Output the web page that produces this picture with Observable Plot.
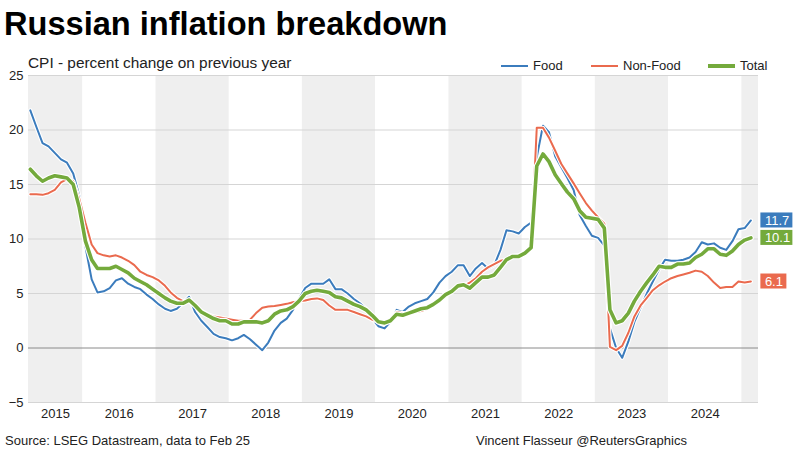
<!DOCTYPE html>
<html>
<head>
<meta charset="utf-8">
<script src="https://cdn.jsdelivr.net/npm/d3@7"></script>
<script src="https://cdn.jsdelivr.net/npm/@observablehq/plot@0.6"></script>
<style>
html,body{margin:0;padding:0;background:#fff;}
body{width:800px;height:450px;position:relative;overflow:hidden;font-family:"Liberation Sans",Arial,sans-serif;color:#111;}
.abs{position:absolute;white-space:nowrap;z-index:2;}
#title{left:4px;top:8px;font-size:32.6px;line-height:32px;font-weight:bold;color:#000;}
#subtitle{left:28px;top:55px;font-size:15.4px;line-height:15.4px;color:#222;}
.leg{font-size:13px;line-height:13px;top:59px;color:#222;}
.sw{position:absolute;z-index:2;width:27px;}
#chart{position:absolute;left:0;top:70px;z-index:1;}
.foot{top:434px;font-size:13px;line-height:13px;color:#222;}
</style>
</head>
<body>
<div id="title" class="abs">Russian inflation breakdown</div>
<div id="subtitle" class="abs">CPI - percent change on previous year</div>
<div id="legend"></div>
<div id="chart"></div>
<div class="abs foot" style="left:5px">Source: LSEG Datastream, data to Feb 25</div>
<div class="abs foot" style="left:476px">Vincent Flasseur @ReutersGraphics</div>
<script>
// Monthly data, Apr 2015 – Feb 2025 (year-on-year % change)
const firstMonth = {year: 2015, month: 4};
const food = [
  21.8, 20.3, 18.8, 18.5, 17.9, 17.3, 17.0, 16.0, 14.0,            // 2015 Apr-Dec
  9.3, 6.3, 5.1, 5.2, 5.5, 6.2, 6.4, 5.9, 5.6, 5.4, 4.9, 4.5,       // 2016
  4.0, 3.6, 3.4, 3.6, 4.1, 4.7, 3.3, 2.5, 1.9, 1.3, 1.0, 0.9,       // 2017
  0.7, 0.9, 1.2, 0.8, 0.3, -0.2, 0.5, 1.6, 2.3, 2.7, 3.5, 4.5,      // 2018
  5.5, 5.9, 5.9, 5.9, 6.3, 5.4, 5.4, 5.0, 4.5, 4.1, 3.6, 2.7,       // 2019
  2.0, 1.8, 2.4, 3.5, 3.3, 3.8, 4.1, 4.3, 4.5, 5.1, 6.0, 6.6,       // 2020
  7.0, 7.6, 7.6, 6.6, 7.3, 7.8, 7.3, 7.6, 9.0, 10.8, 10.7, 10.5,    // 2021
  11.1, 11.5, 17.5, 20.4, 19.8, 17.6, 16.6, 15.6, 14.5, 12.2, 11.2, 10.3, // 2022
  10.1, 9.4, 1.8, 0.0, -0.9, 0.6, 2.4, 3.7, 5.0, 6.1, 7.2, 8.1,     // 2023
  8.0, 8.0, 8.1, 8.3, 8.8, 9.7, 9.5, 9.6, 9.2, 9.0, 9.8, 10.9,      // 2024
  11.0, 11.7                                                        // 2025 Jan-Feb
];
const nonFood = [
  14.1, 14.1, 14.05, 14.2, 14.5, 15.2, 15.5, 15.3, 13.7,
  11.5, 9.5, 8.7, 8.5, 8.4, 8.5, 8.3, 8.0, 7.6, 7.0, 6.7, 6.5,
  6.2, 5.7, 5.1, 4.6, 4.3, 4.3, 3.9, 3.4, 3.1, 2.9, 2.8, 2.7,
  2.6, 2.5, 2.5, 2.6, 3.2, 3.7, 3.8, 3.85, 3.95, 4.05, 4.2, 4.3,
  4.35, 4.5, 4.55, 4.4, 3.9, 3.5, 3.5, 3.5, 3.3, 3.1, 2.9, 2.6,
  2.4, 2.3, 2.6, 3.3, 3.2, 3.2, 3.3, 3.4, 3.6, 4.0, 4.5, 5.0,
  5.2, 5.6, 5.7, 6.0, 6.4, 7.0, 7.4, 7.7, 8.0, 8.1, 8.4, 8.5,
  8.8, 9.2, 20.2, 20.2, 19.3, 18.1, 16.9, 16.0, 15.1, 14.2, 13.3, 12.6,
  12.0, 11.4, 0.1, -0.2, 0.2, 1.4, 2.9, 3.9, 4.6, 5.3, 5.75, 6.1,
  6.4, 6.6, 6.75, 6.9, 7.1, 7.0, 6.6, 6.0, 5.5, 5.6, 5.6, 6.1,
  6.0, 6.1
];
const total = [
  16.4, 15.8, 15.3, 15.6, 15.8, 15.7, 15.6, 15.0, 12.9,
  9.8, 8.1, 7.3, 7.3, 7.3, 7.5, 7.2, 6.9, 6.4, 6.1, 5.8, 5.4,
  5.0, 4.6, 4.3, 4.1, 4.1, 4.4, 3.9, 3.3, 3.0, 2.7, 2.5, 2.5,
  2.2, 2.2, 2.4, 2.4, 2.4, 2.3, 2.5, 3.1, 3.4, 3.5, 3.8, 4.3,
  5.0, 5.2, 5.3, 5.2, 5.1, 4.7, 4.6, 4.3, 4.0, 3.8, 3.5, 3.0,
  2.4, 2.3, 2.5, 3.1, 3.0, 3.2, 3.4, 3.6, 3.7, 4.0, 4.4, 4.9,
  5.2, 5.7, 5.8, 5.5, 6.0, 6.5, 6.5, 6.7, 7.4, 8.1, 8.4, 8.4,
  8.7, 9.2, 16.7, 17.8, 17.1, 15.9, 15.1, 14.3, 13.7, 12.6, 12.0, 11.9,
  11.8, 11.0, 3.5, 2.3, 2.5, 3.2, 4.3, 5.2, 6.0, 6.7, 7.5, 7.4,
  7.4, 7.7, 7.7, 7.8, 8.3, 8.6, 9.1, 9.1, 8.6, 8.5, 8.9, 9.5,
  9.9, 10.1
];
const seriesNames = ["Food", "Non-Food", "Total"];
const seriesColors = ["#3b7cbd", "#ea6a4e", "#74aa3c"];
const seriesWidths = [2, 2, 3.6];
const yTicks = [-5, 0, 5, 10, 15, 20, 25];
const labelYears = [2015, 2016, 2017, 2018, 2019, 2020, 2021, 2022, 2023, 2024];
const shadedYears = [2015, 2017, 2019, 2021, 2023, 2025];
const xDomain = [new Date(Date.UTC(2015, 3, 6)), new Date(Date.UTC(2025, 2, 25))];
const yDomain = [-5, 25];

const valuesBySeries = [food, nonFood, total];
const dateOf = i => new Date(Date.UTC(firstMonth.year, firstMonth.month - 1 + i, 15));
const seriesData = valuesBySeries.map((vals, s) =>
  vals.map((v, i) => ({series: seriesNames[s], date: dateOf(i), value: v})));
const lastPoints = seriesData.map((d, s) => ({...d[d.length - 1], color: seriesColors[s], label: d[d.length - 1].value.toFixed(1)}));

const bands = shadedYears.map(y => ({
  x1: new Date(Math.max(Date.UTC(y, 0, 1), +xDomain[0])),
  x2: new Date(Math.min(Date.UTC(y + 1, 0, 1), +xDomain[1]))
}));
const labelDates = labelYears.map(y => {
  const a = Math.max(Date.UTC(y, 0, 1), +xDomain[0]);
  const b = Math.min(Date.UTC(y + 1, 0, 1), +xDomain[1]);
  return new Date((a + b) / 2);
});

// legend
const legendPos = [[501, 533], [591, 623], [708, 740]];
const leg = document.getElementById("legend");
seriesNames.forEach((n, s) => {
  const sw = document.createElement("div");
  sw.className = "sw";
  const h = s === 2 ? 4 : 2;
  sw.style.cssText = `left:${legendPos[s][0]}px;top:${66 - h/2}px;height:${h}px;background:${seriesColors[s]}`;
  leg.appendChild(sw);
  const t = document.createElement("div");
  t.className = "abs leg";
  t.style.left = legendPos[s][1] + "px";
  t.textContent = n;
  leg.appendChild(t);
});

const lineMarks = [];
seriesData.forEach((d, s) => {
  lineMarks.push(Plot.line(d, {x: "date", y: "value", stroke: "white", strokeWidth: seriesWidths[s] + 2.2, strokeLinejoin: "round"}));
  lineMarks.push(Plot.line(d, {x: "date", y: "value", stroke: seriesColors[s], strokeWidth: seriesWidths[s], strokeLinejoin: "round"}));
});

const chart = Plot.plot({
  width: 800,
  height: 355,
  marginLeft: 28,
  marginRight: 42,
  marginTop: 5,
  marginBottom: 23,
  style: {fontFamily: "'Liberation Sans', Arial, sans-serif", fontSize: "13px", color: "#222", background: "transparent", overflow: "visible"},
  x: {type: "utc", domain: xDomain, ticks: labelDates, tickFormat: d => String(d.getUTCFullYear()), tickSize: 0, tickPadding: 6, label: null},
  y: {domain: yDomain, ticks: yTicks, tickSize: 0, tickPadding: 5, label: null},
  marks: [
    Plot.rect(bands, {x1: "x1", x2: "x2", y1: yDomain[0], y2: yDomain[1], fill: "#efefef"}),
    Plot.ruleY(yTicks.filter(d => d !== 0), {stroke: "#d5d5d5", strokeWidth: 1}),
    Plot.ruleY([0], {stroke: "#8a8a8a", strokeWidth: 1}),
    ...lineMarks,
    Plot.rect(lastPoints.filter(d => d.label.length > 3), {x1: "date", x2: "date", y1: "value", y2: "value", fill: "color", insetLeft: 10, insetRight: -42, insetTop: -7.5, insetBottom: -7.5}),
    Plot.rect(lastPoints.filter(d => d.label.length <= 3), {x1: "date", x2: "date", y1: "value", y2: "value", fill: "color", insetLeft: 10, insetRight: -36, insetTop: -7.5, insetBottom: -7.5}),
    Plot.text(lastPoints, {x: "date", y: "value", text: "label", dx: 14, textAnchor: "start", fill: "white", fontSize: 13})
  ]
});
document.getElementById("chart").appendChild(chart);
</script>
</body>
</html>
